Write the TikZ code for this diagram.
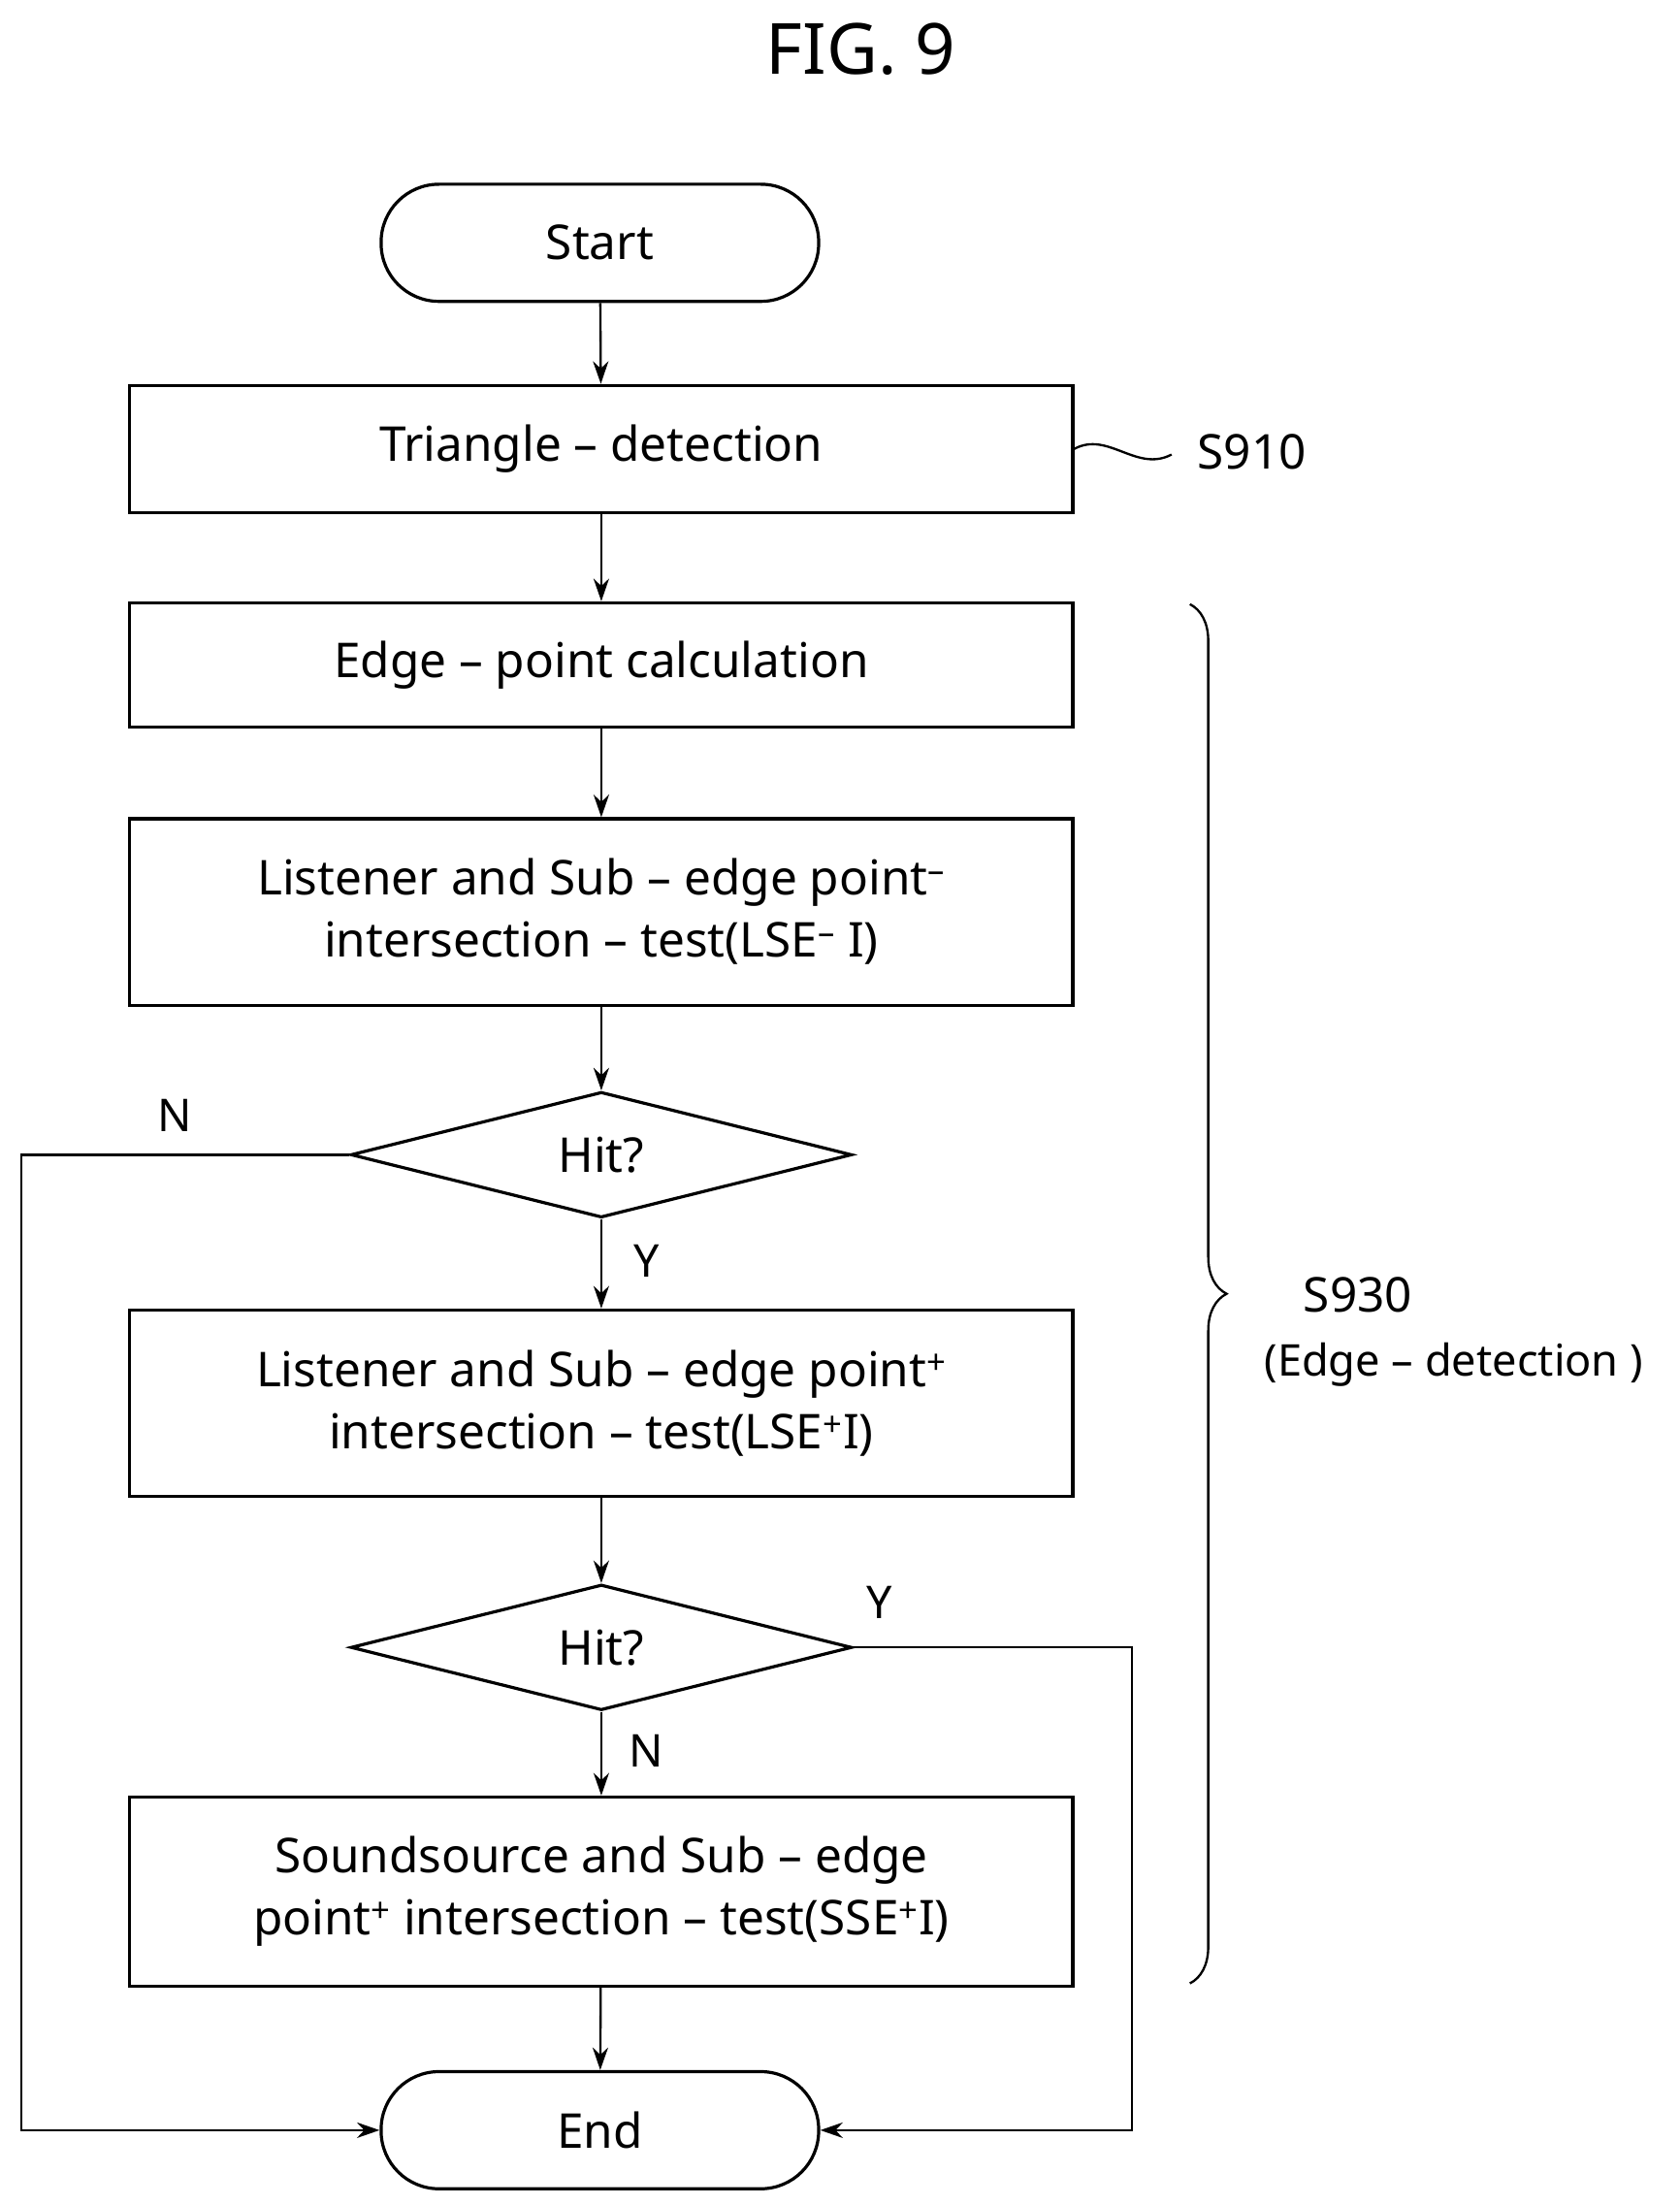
\documentclass[tikz,border=0pt]{standalone}
\usepackage{fontspec}
\setmainfont{Noto Sans}
\usetikzlibrary{shapes.geometric,decorations.pathreplacing,arrows.meta}
\begin{document}
\begin{tikzpicture}[x=1pt,y=-1pt,
  every node/.style={font=\fontsize{34}{44}\selectfont},
  box/.style={draw,line width=2.2pt,minimum width=668pt,align=center,inner sep=0pt},
  term/.style={draw,line width=2.2pt,rounded corners=41pt,minimum width=310pt,minimum height=83pt},
  dia/.style={draw,line width=2.2pt,diamond,aspect=4,minimum width=355pt,minimum height=89pt,inner sep=0pt},
  arr/.style={line width=1.6pt,-{Stealth[length=16pt,width=11pt]}},
  lab/.style={font=\fontsize{32}{40}\selectfont}]
\useasboundingbox (0,0) rectangle (1190,1562);
\node[font=\fontsize{50}{60}\selectfont\bfseries\rmfamily] (title) at (610,35) {FIG. 9};
\node[term] (start) at (425,172) {Start};
\node[box,minimum height=90pt] (s910) at (426,318) {Triangle -- detection};
\node[box,minimum height=88pt] (edge) at (426,471) {Edge -- point calculation};
\node[box,minimum height=132pt] (lsem) at (426,646) {Listener and Sub -- edge point\textsuperscript{--}\\intersection -- test(LSE\textsuperscript{--} I)};
\node[dia] (hit1) at (426,818) {Hit?};
\node[box,minimum height=132pt] (lsep) at (426,994) {Listener and Sub -- edge point\textsuperscript{+}\\intersection -- test(LSE\textsuperscript{+}I)};
\node[dia] (hit2) at (426,1167) {Hit?};
\node[box,minimum height=134pt] (sse) at (426,1340) {Soundsource and Sub -- edge\\point\textsuperscript{+} intersection -- test(SSE\textsuperscript{+}I)};
\node[term] (end) at (425,1509) {End};
\draw[arr] (start) -- (s910);
\draw[arr] (s910) -- (edge);
\draw[arr] (edge) -- (lsem);
\draw[arr] (lsem) -- (hit1);
\draw[arr] (hit1) -- (lsep);
\draw[arr] (lsep) -- (hit2);
\draw[arr] (hit2) -- (sse);
\draw[arr] (sse) -- (end);
\coordinate (l1) at (15,818); \coordinate (l2) at (15,1509);
\coordinate (r1) at (802,1167); \coordinate (r2) at (802,1509);
\draw[arr] (hit1.west) -- (l1) -- (l2) -- (end.west);
\draw[arr] (hit2.east) -- (r1) -- (r2) -- (end.east);
\node[lab] (n1) at (124,790) {N};
\node[lab] (y1) at (458,893) {Y};
\node[lab] (y2) at (623,1135) {Y};
\node[lab] (n2) at (458,1240) {N};
\coordinate (sq) at (830,322);
\draw[line width=1.6pt] (s910.east) .. controls (785,305) and (805,335) .. (sq);
\node[anchor=west] (l910) at (845,320) {S910};
\draw[line width=1.6pt,decorate,decoration={brace,amplitude=26pt}] (843,428) -- (843,1405);
\node (l930) at (962,917) {S930};
\node[font=\fontsize{31}{40}\selectfont] (l930b) at (1030,967) {(Edge -- detection )};
\end{tikzpicture}
\end{document}
